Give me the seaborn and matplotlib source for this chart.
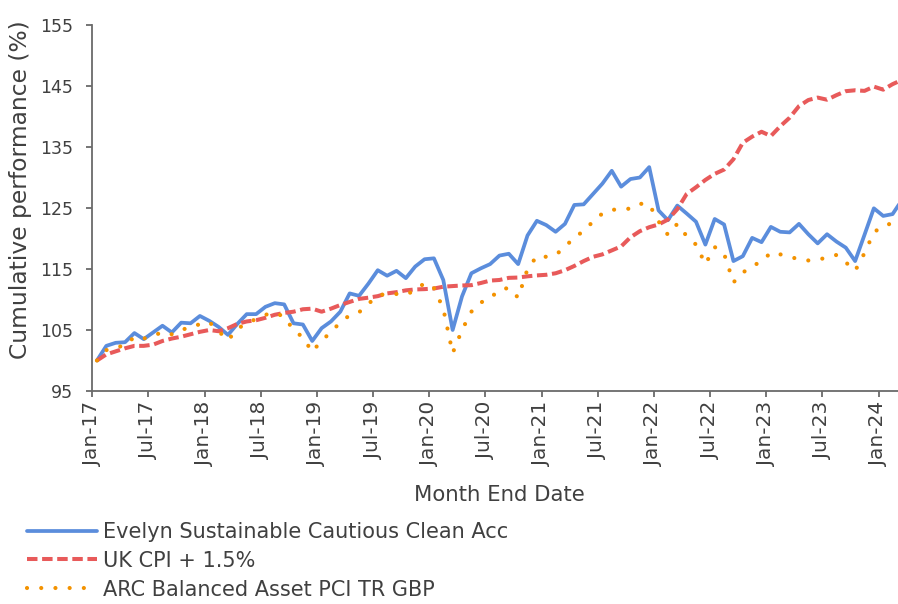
import numpy as np
import pandas as pd
import matplotlib
matplotlib.use("Agg")
import matplotlib.pyplot as plt
import seaborn as sns

sns.set_style("ticks")
plt.rcParams["font.family"] = ["DejaVu Sans"]

# ---------------- data ----------------
tick_labels = ["Jan-17", "Jul-17", "Jan-18", "Jul-18", "Jan-19", "Jul-19", "Jan-20",
               "Jul-20", "Jan-21", "Jul-21", "Jan-22", "Jul-22", "Jan-23", "Jul-23", "Jan-24"]

evelyn = [100.0, 102.4, 102.9, 103.0, 104.5, 103.5, 104.6, 105.7, 104.6, 106.2,
          106.1, 107.3, 106.5, 105.5, 104.2, 106.0, 107.6, 107.6, 108.8, 109.4,
          109.2, 106.1, 105.9, 103.2, 105.3, 106.4, 108.0, 111.0, 110.6, 112.6,
          114.8, 113.9, 114.7, 113.5, 115.4, 116.6, 116.75, 113.2, 105.0, 110.5,
          114.3, 115.1, 115.8, 117.2, 117.5, 115.8, 120.5, 122.9, 122.2, 121.1,
          122.4, 125.5, 125.6, 127.3, 129.0, 131.1, 128.5, 129.75, 130.0, 131.7,
          124.6, 123.0, 125.4, 124.1, 122.75, 119.0, 123.2, 122.3, 116.3, 117.1,
          120.1, 119.4, 121.9, 121.1, 121.0, 122.4, 120.7, 119.2, 120.7, 119.5,
          118.5, 116.3, 120.6, 124.95, 123.7, 124.0, 126.3]

cpi = [100.0, 101.0, 101.5, 102.0, 102.4, 102.4, 102.6, 103.2, 103.6, 103.9,
       104.3, 104.7, 105.0, 104.8, 105.3, 106.0, 106.4, 106.6, 107.0, 107.5,
       107.8, 108.0, 108.4, 108.5, 108.0, 108.5, 109.1, 109.6, 110.1, 110.3,
       110.55, 111.0, 111.2, 111.5, 111.65, 111.7, 111.8, 112.1, 112.2, 112.3,
       112.35, 112.7, 113.1, 113.2, 113.55, 113.6, 113.8, 113.95, 114.05, 114.3,
       114.8, 115.5, 116.3, 117.0, 117.4, 118.05, 118.7, 120.2, 121.2, 121.85,
       122.3, 123.1, 124.8, 127.3, 128.4, 129.6, 130.6, 131.3, 133.0, 135.7,
       136.7, 137.5, 136.8, 138.4, 139.8, 141.7, 142.7, 143.1, 142.75, 143.5,
       144.15, 144.3, 144.2, 144.9, 144.4, 145.3, 146.0]

arc = [100.0, 101.7, 102.2, 102.4, 103.9, 103.6, 104.0, 104.7, 104.3, 105.1,
       105.3, 106.0, 106.3, 104.8, 103.3, 105.2, 106.1, 106.8, 107.5, 107.8,
       107.2, 105.0, 103.8, 101.4, 103.3, 104.6, 106.3, 107.4, 107.9, 109.3,
       110.6, 111.0, 110.9, 110.8, 111.5, 112.7, 111.9, 108.5, 101.2, 105.0,
       108.0, 109.5, 110.2, 111.6, 111.9, 110.3, 115.0, 117.1, 117.0, 117.3,
       118.6, 120.2, 121.2, 122.8, 124.1, 124.7, 124.8, 124.9, 125.7, 125.6,
       122.8, 120.6, 122.4, 120.4, 119.0, 115.8, 118.6, 117.5, 112.8, 114.4,
       115.5, 116.2, 117.7, 117.4, 117.0, 116.6, 116.4, 116.5, 116.9, 117.3,
       116.1, 114.7, 117.6, 121.0, 122.1, 122.5, 123.0]

series_names = ["Evelyn Sustainable Cautious Clean Acc", "UK CPI + 1.5%",
                "ARC Balanced Asset PCI TR GBP"]

month = np.arange(len(evelyn))
df = pd.DataFrame({"month": month, series_names[0]: evelyn,
                   series_names[1]: cpi, series_names[2]: arc})

# ---------------- figure ----------------
W, H = 898, 604
fig = plt.figure(figsize=(W / 100, H / 100), dpi=100)
ax = fig.add_axes([92 / W, 1 - 391 / H, 806 / W, 366 / H])

text_col = "#404040"
axis_col = "#6a6a6a"

sns.lineplot(data=df, x="month", y=series_names[0], ax=ax, color="#5B8DDC",
             linewidth=2.7, label=series_names[0])
sns.lineplot(data=df, x="month", y=series_names[1], ax=ax, color="#E85A5A",
             linewidth=2.9, linestyle=(0, (2.6, 1.15)), dash_capstyle="butt",
             label=series_names[1])
sns.lineplot(data=df, x="month", y=series_names[2], ax=ax, color="#F39200",
             linewidth=3.0, linestyle=(0, (0.01, 3.4)), dash_capstyle="round",
             label=series_names[2])

ax.set_xlim(-0.53, 85.58)
ax.set_ylim(95, 155)
ax.set_yticks(np.arange(95, 156, 10))
ax.set_xticks(np.arange(0, 6 * len(tick_labels), 6) - 0.5)
ax.set_xticklabels(tick_labels, rotation=90)

for s in ["top", "right"]:
    ax.spines[s].set_visible(False)
for s in ["left", "bottom"]:
    ax.spines[s].set_color(axis_col)
    ax.spines[s].set_linewidth(1.3)

ax.tick_params(axis="both", colors=axis_col, length=4.5, width=1.3,
               labelcolor=text_col)
ax.tick_params(axis="x", pad=3, labelsize=14.5)
ax.tick_params(axis="y", pad=9, labelsize=12.5)

ax.set_xlabel("Month End Date", fontsize=15.3, color=text_col)
ax.set_ylabel("Cumulative performance (%)", fontsize=16.8, color=text_col)
ax.xaxis.set_label_coords(0.506, (391 - 485) / 366)
ax.yaxis.set_label_coords(-0.075, (391 - 190) / 366)

handles, labels = ax.get_legend_handles_labels()
ax.get_legend().remove()
fig.legend(handles, labels, loc="upper left", bbox_to_anchor=(27 / W, 1 - 522 / H),
           frameon=False, fontsize=15, handlelength=3.35, handletextpad=0.3,
           labelspacing=0.42, borderpad=0, borderaxespad=0, labelcolor=text_col)

fig.savefig("out.png", dpi=100)
